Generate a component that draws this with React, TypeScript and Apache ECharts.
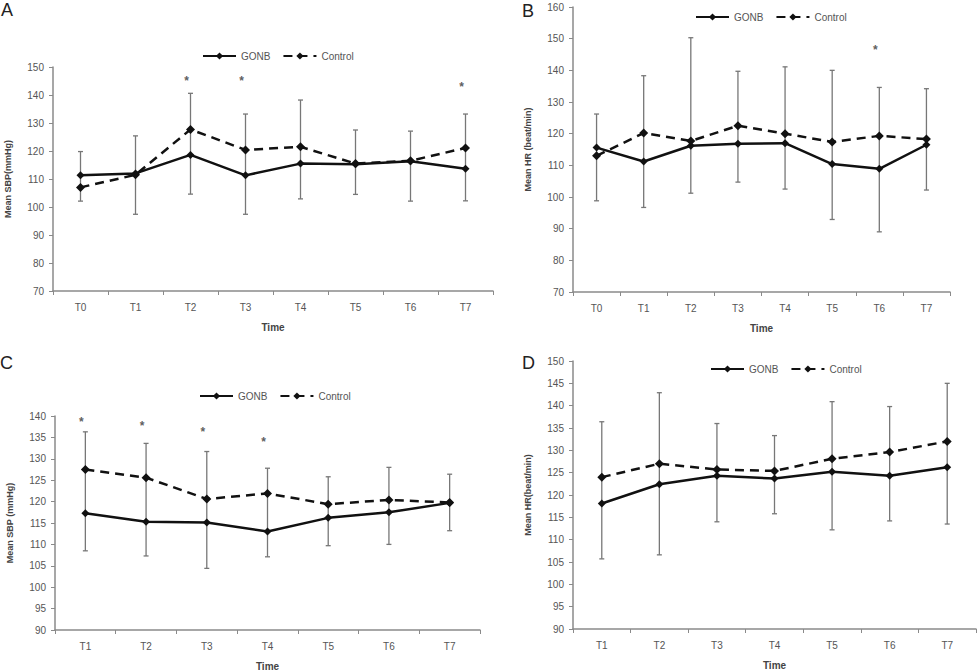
import React, { useEffect, useRef } from "react";
import * as echarts from "echarts";

const categoriesAB = ["T0", "T1", "T2", "T3", "T4", "T5", "T6", "T7"];
const categoriesCD = ["T1", "T2", "T3", "T4", "T5", "T6", "T7"];

// Panel A – Mean SBP
const gonbA = [111.3, 112, 118.6, 111.3, 115.5, 115.3, 116.3, 113.7];
const controlA = [107, 111.5, 127.7, 120.4, 121.5, 115.5, 116.5, 121.1];
const errLowA = [102.1, 97.4, 104.6, 97.4, 102.9, 104.5, 102.1, 102.2];
const errHighA = [119.8, 125.4, 140.6, 133.2, 138.2, 127.5, 127.1, 133.2];
const starIdxA = [2, 3, 7];
const starValA = [146, 146, 143.8];

// Panel B – Mean HR
const gonbB = [115.6, 111.2, 116.2, 116.8, 117, 110.4, 108.9, 116.5];
const controlB = [113, 120.2, 117.7, 122.5, 120, 117.4, 119.3, 118.3];
const errLowB = [98.8, 96.7, 101.2, 104.7, 102.5, 92.9, 89, 102.2];
const errHighB = [126.2, 138.3, 150.3, 139.7, 141.1, 140, 134.6, 134.2];
const starIdxB = [6];
const starValB = [147.5];

// Panel C – Mean SBP
const gonbC = [117.3, 115.3, 115.1, 113, 116.2, 117.5, 119.7];
const controlC = [127.5, 125.6, 120.6, 121.9, 119.4, 120.4, 119.8];
const errLowC = [108.5, 107.3, 104.4, 107.1, 109.7, 110, 113.2];
const errHighC = [136.3, 133.6, 131.7, 127.8, 125.8, 128, 126.4];
const starIdxC = [0, 1, 2, 3];
const starValC = [139.3, 138.3, 136.9, 134.6];

// Panel D – Mean HR
const gonbD = [118.1, 122.4, 124.3, 123.7, 125.2, 124.3, 126.2];
const controlD = [124, 127, 125.7, 125.4, 128.1, 129.6, 132];
const errLowD = [105.7, 106.6, 114, 115.8, 112.2, 114.2, 113.5];
const errHighD = [136.4, 142.9, 136, 133.3, 140.9, 139.8, 145];
const starIdxD: number[] = [];
const starValD: number[] = [];

const FONT = "'Liberation Sans', Arial, sans-serif";
const AXIS_COLOR = "#8a8a8a";
const TEXT_COLOR = "#555";

type Panel = {
  label: string;
  cats: string[];
  gonb: number[];
  control: number[];
  lo: number[];
  hi: number[];
  starIdx: number[];
  starVal: number[];
  grid: { left: number; top: number; width: number; height: number };
  yMin: number;
  yMax: number;
  yInt: number;
  yName: string;
  legendLeft: number;
  legendTop: number;
  labelPos: [number, number];
};

const panels: Panel[] = [
  {
    label: "A", cats: categoriesAB, gonb: gonbA, control: controlA, lo: errLowA, hi: errHighA,
    starIdx: starIdxA, starVal: starValA,
    grid: { left: 53, top: 67, width: 440, height: 224 },
    yMin: 70, yMax: 150, yInt: 10, yName: "Mean SBP(mmHg)",
    legendLeft: 197, legendTop: 46, labelPos: [1, 1],
  },
  {
    label: "B", cats: categoriesAB, gonb: gonbB, control: controlB, lo: errLowB, hi: errHighB,
    starIdx: starIdxB, starVal: starValB,
    grid: { left: 573, top: 7, width: 377, height: 285 },
    yMin: 70, yMax: 160, yInt: 10, yName: "Mean HR (beat/min)",
    legendLeft: 690, legendTop: 7, labelPos: [522, 2],
  },
  {
    label: "C", cats: categoriesCD, gonb: gonbC, control: controlC, lo: errLowC, hi: errHighC,
    starIdx: starIdxC, starVal: starValC,
    grid: { left: 55, top: 416, width: 425, height: 214 },
    yMin: 90, yMax: 140, yInt: 5, yName: "Mean SBP (mmHg)",
    legendLeft: 194, legendTop: 386, labelPos: [0, 354],
  },
  {
    label: "D", cats: categoriesCD, gonb: gonbD, control: controlD, lo: errLowD, hi: errHighD,
    starIdx: starIdxD, starVal: starValD,
    grid: { left: 573, top: 361, width: 403, height: 268 },
    yMin: 90, yMax: 150, yInt: 5, yName: "Mean HR(beat/min)",
    legendLeft: 705, legendTop: 359, labelPos: [522, 354],
  },
];

function buildOption() {
  const grid: any[] = [];
  const xAxis: any[] = [];
  const yAxis: any[] = [];
  const series: any[] = [];
  const legend: any[] = [];
  const graphic: any[] = [];

  panels.forEach((p, i) => {
    grid.push({ ...p.grid, containLabel: false });
    xAxis.push({
      type: "category",
      gridIndex: i,
      data: p.cats,
      boundaryGap: true,
      name: "Time",
      nameLocation: "middle",
      nameGap: 31,
      nameTextStyle: { fontFamily: FONT, fontSize: 10, fontWeight: "bold", color: "#444" },
      axisLine: { lineStyle: { color: AXIS_COLOR, width: 1.5 } },
      axisTick: { show: true, length: 4, lineStyle: { color: AXIS_COLOR } },
      axisLabel: { fontFamily: FONT, fontSize: 10, color: TEXT_COLOR, margin: 11 },
      splitLine: { show: false },
    });
    yAxis.push({
      type: "value",
      gridIndex: i,
      min: p.yMin,
      max: p.yMax,
      interval: p.yInt,
      name: p.yName,
      nameLocation: "middle",
      nameGap: 41,
      nameRotate: 90,
      nameTextStyle: { fontFamily: FONT, fontSize: 9, fontWeight: "bold", color: "#444" },
      axisLine: { show: true, lineStyle: { color: AXIS_COLOR, width: 1.5 } },
      axisTick: { show: true, length: 4, lineStyle: { color: AXIS_COLOR } },
      axisLabel: { fontFamily: FONT, fontSize: 10, color: TEXT_COLOR, margin: 9 },
      splitLine: { show: false },
    });

    // error bars
    series.push({
      type: "custom",
      name: "err" + p.label,
      xAxisIndex: i,
      yAxisIndex: i,
      z: 1,
      encode: { x: 0, y: [1, 2] },
      data: p.cats.map((_, k) => [k, p.lo[k], p.hi[k]]),
      renderItem: (params: any, api: any) => {
        const x = api.value(0);
        const top = api.coord([x, api.value(2)]);
        const bot = api.coord([x, api.value(1)]);
        const cw = 2.5;
        const style = { stroke: "#777", lineWidth: 1.3 };
        return {
          type: "group",
          children: [
            { type: "line", shape: { x1: top[0], y1: top[1], x2: bot[0], y2: bot[1] }, style },
            { type: "line", shape: { x1: top[0] - cw, y1: top[1], x2: top[0] + cw, y2: top[1] }, style },
            { type: "line", shape: { x1: bot[0] - cw, y1: bot[1], x2: bot[0] + cw, y2: bot[1] }, style },
          ],
        };
      },
    });

    series.push({
      type: "line",
      name: "GONB",
      xAxisIndex: i,
      yAxisIndex: i,
      z: 3,
      data: p.gonb,
      symbol: "diamond",
      symbolSize: 8,
      itemStyle: { color: "#111" },
      lineStyle: { color: "#111", width: 2.5, type: "solid" },
    });
    series.push({
      type: "line",
      name: "Control",
      xAxisIndex: i,
      yAxisIndex: i,
      z: 3,
      data: p.control,
      symbol: "diamond",
      symbolSize: 9,
      itemStyle: { color: "#111" },
      lineStyle: { color: "#111", width: 2.5, type: [9, 6] },
    });

    if (p.starIdx.length) {
      series.push({
        type: "scatter",
        name: "sig" + p.label,
        xAxisIndex: i,
        yAxisIndex: i,
        z: 4,
        symbolSize: 0,
        data: p.starIdx.map((k, j) => [k, p.starVal[j]]),
        label: {
          show: true,
          position: "inside",
          formatter: "*",
          offset: [-4, 3],
          fontFamily: FONT,
          fontSize: 12,
          fontWeight: "bold",
          color: "#333",
        },
      });
    }

    legend.push({
      data: ["GONB", "Control"],
      left: p.legendLeft,
      top: p.legendTop,
      orient: "horizontal",
      itemWidth: 33,
      itemHeight: 9,
      itemGap: 12,
      selectedMode: false,
      textStyle: { fontFamily: FONT, fontSize: 10, color: TEXT_COLOR },
    });

    graphic.push({
      type: "text",
      left: p.labelPos[0],
      top: p.labelPos[1],
      style: { text: p.label, font: `18px ${FONT}`, fill: "#222" },
    });
  });

  return {
    animation: false,
    backgroundColor: "#fff",
    grid,
    xAxis,
    yAxis,
    series,
    legend,
    graphic,
  };
}

export default function App() {
  const ref = useRef<HTMLDivElement>(null);
  useEffect(() => {
    if (!ref.current) return;
    const chart = echarts.init(ref.current, undefined, { renderer: "svg" });
    chart.setOption(buildOption() as any);
    return () => chart.dispose();
  }, []);
  return (
    <div
      ref={ref}
      style={{ position: "fixed", left: 0, top: 0, width: 979, height: 672, background: "#fff" }}
    />
  );
}
